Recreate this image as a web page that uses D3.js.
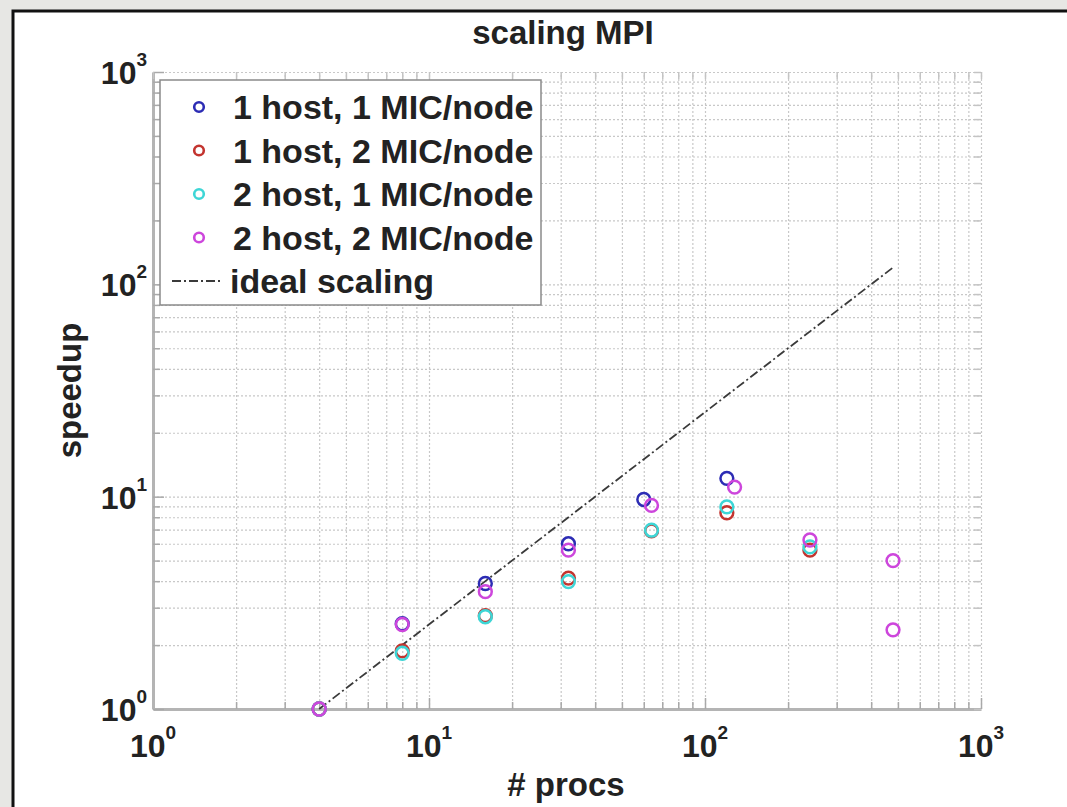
<!DOCTYPE html>
<html>
<head>
<meta charset="utf-8">
<script src="https://cdn.jsdelivr.net/npm/d3@7"></script>
<style>
  html, body { margin: 0; padding: 0; background: #e7e7e4; }
  svg { display: block; }
  text { font-family: "Liberation Sans", Arial, Helvetica, sans-serif; fill: #222; font-weight: bold; }
</style>
</head>
<body>
<svg id="chart" width="1067" height="807"></svg>
<script>
// Speedup measurements of the MPI runs, one pair of arrays per configuration
const seriesNames = ["1 host, 1 MIC/node", "1 host, 2 MIC/node", "2 host, 1 MIC/node", "2 host, 2 MIC/node"];
const seriesColors = ["#2c2cb4", "#c3342f", "#3ed6d6", "#cd46dc"];

const procs1h1m = [4, 8, 16, 32, 60, 120];
const speedup1h1m = [1, 2.52, 3.9, 6.0, 9.7, 12.2];

const procs1h2m = [4, 8, 16, 32, 64, 120, 240];
const speedup1h2m = [1, 1.88, 2.75, 4.13, 6.9, 8.4, 5.6];

const procs2h1m = [4, 8, 16, 32, 64, 120, 240];
const speedup2h1m = [1, 1.83, 2.72, 3.98, 6.95, 8.95, 5.8];

const procs2h2m = [4, 8, 16, 32, 64, 128, 240, 480, 480];
const speedup2h2m = [1, 2.5, 3.57, 5.6, 9.1, 11.1, 6.25, 5.0, 2.36];

// Ideal (linear) scaling reference line
const idealProcs = [4, 480];
const idealSpeedup = [1, 120];

// Decade tick values and their exponent labels
const decades = [1, 10, 100, 1000];
const decadeExponents = ["0", "1", "2", "3"];

const titleText = "scaling MPI";
const xLabelText = "# procs";
const yLabelText = "speedup";
const idealLabel = "ideal scaling";

const svg = d3.select("#chart");

// white figure panel with dark frame
svg.append("rect").attr("x", 13).attr("y", 11).attr("width", 1070).attr("height", 810)
  .attr("fill", "#ffffff").attr("stroke", "#111").attr("stroke-width", 3);

const plot = { left: 153, right: 981, top: 72, bottom: 709 };
const x = d3.scaleLog().domain([1, 1000]).range([plot.left, plot.right]);
const y = d3.scaleLog().domain([1, 1000]).range([plot.bottom, plot.top]);

// minor (2..9 per decade) and all tick positions
const allTicks = [];
for (let d = 1; d < 1000; d *= 10) for (let k = 1; k < 10; k++) allTicks.push(d * k);
allTicks.push(1000);

const grid = svg.append("g");
// vertical grid lines
grid.append("g").attr("transform", `translate(0,${plot.bottom})`)
  .call(d3.axisBottom(x).tickValues(allTicks).tickSize(-(plot.bottom - plot.top)).tickFormat(""))
  .call(g => g.select(".domain").remove())
  .call(g => g.selectAll("line").attr("stroke", "#c8c8c8").attr("stroke-width", 1.2).attr("stroke-dasharray", "2,2"));
// horizontal grid lines
grid.append("g").attr("transform", `translate(${plot.left},0)`)
  .call(d3.axisLeft(y).tickValues(allTicks).tickSize(-(plot.right - plot.left)).tickFormat(""))
  .call(g => g.select(".domain").remove())
  .call(g => g.selectAll("line").attr("stroke", "#c8c8c8").attr("stroke-width", 1.2).attr("stroke-dasharray", "2,2"));

// inward tick marks on all four sides
const tickColor = "#a9a9a9";
const axB = svg.append("g").attr("transform", `translate(0,${plot.bottom})`)
  .call(d3.axisBottom(x).tickValues(allTicks).tickSizeInner(-7).tickSizeOuter(0).tickFormat(""));
axB.selectAll("line").attr("stroke", tickColor).attr("stroke-width", 1.5);
axB.select(".domain").attr("stroke", "#b4b4b4").attr("stroke-width", 3);
axB.selectAll("line").filter(d => decades.includes(d)).attr("y2", -11);

const axL = svg.append("g").attr("transform", `translate(${plot.left},0)`)
  .call(d3.axisLeft(y).tickValues(allTicks).tickSizeInner(-7).tickSizeOuter(0).tickFormat(""));
axL.selectAll("line").attr("stroke", tickColor).attr("stroke-width", 1.5);
axL.select(".domain").attr("stroke", "#b4b4b4").attr("stroke-width", 3);
axL.selectAll("line").filter(d => decades.includes(d)).attr("x2", 11);

const axT = svg.append("g").attr("transform", `translate(0,${plot.top})`)
  .call(d3.axisTop(x).tickValues(allTicks).tickSizeInner(-7).tickSizeOuter(0).tickFormat(""));
axT.selectAll("line").attr("stroke", "#c4c4c4").attr("stroke-width", 1.5);
axT.select(".domain").remove();

const axR = svg.append("g").attr("transform", `translate(${plot.right},0)`)
  .call(d3.axisRight(y).tickValues(allTicks).tickSizeInner(-7).tickSizeOuter(0).tickFormat(""));
axR.selectAll("line").attr("stroke", "#c4c4c4").attr("stroke-width", 1.5);
axR.select(".domain").remove();

// decade labels with superscript exponents
const labelSize = 32, supSize = 19;
decades.forEach((v, i) => {
  const tx = svg.append("text").attr("x", x(v)).attr("y", plot.bottom + 48)
    .attr("text-anchor", "middle").style("font-size", labelSize + "px");
  tx.append("tspan").text("10");
  tx.append("tspan").attr("dy", -18).style("font-size", supSize + "px").text(decadeExponents[i]);

  const ty = svg.append("text").attr("x", plot.left - 6).attr("y", y(v) + 12)
    .attr("text-anchor", "end").style("font-size", labelSize + "px");
  ty.append("tspan").text("10");
  ty.append("tspan").attr("dy", -18).style("font-size", supSize + "px").text(decadeExponents[i]);
});

// title and axis labels
svg.append("text").attr("x", 563).attr("y", 44)
  .attr("text-anchor", "middle").style("font-size", "33px").text(titleText);
svg.append("text").attr("x", 566).attr("y", 796)
  .attr("text-anchor", "middle").style("font-size", "33px").text(xLabelText);
svg.append("text")
  .attr("transform", `translate(81,${(plot.top + plot.bottom) / 2}) rotate(-90)`)
  .attr("text-anchor", "middle").style("font-size", "33px").text(yLabelText);

// ideal scaling line
const line = d3.line().x(d => x(d[0])).y(d => y(d[1]));
svg.append("path").datum(d3.zip(idealProcs, idealSpeedup))
  .attr("d", line).attr("fill", "none").attr("stroke", "#3a3a3a")
  .attr("stroke-width", 1.8).attr("stroke-dasharray", "9,3,2,3");

// measured speedups as open circles
const seriesData = [
  d3.zip(procs1h1m, speedup1h1m),
  d3.zip(procs1h2m, speedup1h2m),
  d3.zip(procs2h1m, speedup2h1m),
  d3.zip(procs2h2m, speedup2h2m)
];
seriesData.forEach((pts, i) => {
  svg.append("g").selectAll("circle").data(pts).join("circle")
    .attr("cx", d => x(d[0])).attr("cy", d => y(d[1])).attr("r", 6.4)
    .attr("fill", "none").attr("stroke", seriesColors[i]).attr("stroke-width", 2.5);
});

// legend
const leg = svg.append("g");
leg.append("rect").attr("x", 160).attr("y", 80).attr("width", 381).attr("height", 225)
  .attr("fill", "#fff").attr("stroke", "#8a8a8a").attr("stroke-width", 1.5);
const rowY = i => 107 + i * 43.5;
seriesNames.forEach((name, i) => {
  leg.append("circle").attr("cx", 199).attr("cy", rowY(i)).attr("r", 4.8)
    .attr("fill", "none").attr("stroke", seriesColors[i]).attr("stroke-width", 2.6);
  leg.append("text").attr("x", 233).attr("y", rowY(i) + 12).style("font-size", "34px").text(name);
});
leg.append("line").attr("x1", 172).attr("x2", 222).attr("y1", rowY(4)).attr("y2", rowY(4))
  .attr("stroke", "#3a3a3a").attr("stroke-width", 1.8).attr("stroke-dasharray", "9,3,2,3");
leg.append("text").attr("x", 230).attr("y", rowY(4) + 12).style("font-size", "34px").text(idealLabel);
</script>
</body>
</html>
